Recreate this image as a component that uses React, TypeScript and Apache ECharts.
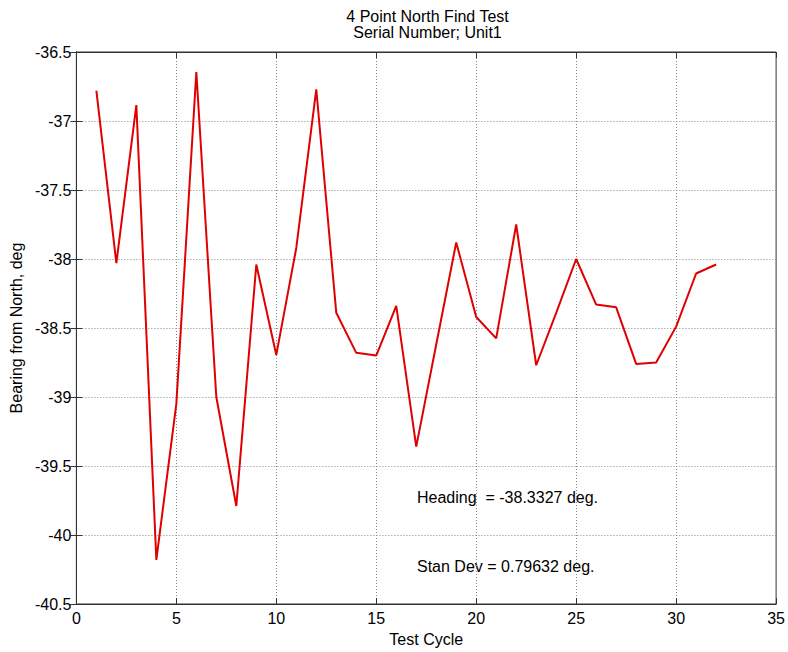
import React, { useEffect, useRef } from "react";
import * as echarts from "echarts";

const cycles = [1,2,3,4,5,6,7,8,9,10,11,12,13,14,15,16,17,18,19,20,21,22,23,24,25,26,27,28,29,30,31,32];
const bearings = [
  -36.78, -38.03, -36.885, -40.18, -39.05, -36.645, -39.0, -39.79,
  -38.04, -38.695, -37.92, -36.77, -38.39, -38.68, -38.70, -38.34,
  -39.36, -38.62, -37.88, -38.42, -38.575, -37.75, -38.77, -38.39,
  -38.0, -38.33, -38.35, -38.76, -38.75, -38.49, -38.105, -38.04,
];
const titleLines = ["4 Point North Find Test", "Serial Number; Unit1"];
const annotations = ["Heading  = -38.3327 deg.", "Stan Dev = 0.79632 deg."];
const xName = "Test Cycle";
const yName = "Bearing from North, deg";

const FONT = "'Liberation Sans', Arial, sans-serif";
const AXIS_COLOR = "#333";
const FS = 16;

export default function App() {
  const ref = useRef<HTMLDivElement>(null);
  useEffect(() => {
    document.body.style.margin = "0";
    if (!ref.current) return;
    const chart = echarts.init(ref.current, undefined, { renderer: "svg" });
    const gridLeft = 76, gridRight = 9, gridTop = 52, gridBottom = 45;
    const plotCenterX = gridLeft + (788 - gridLeft - gridRight) / 2;
    const commonX = { type: "value", min: 0, max: 35, interval: 5 };
    const commonY = { type: "value", min: -40.5, max: -36.5, interval: 0.5 };
    chart.setOption({
      animation: false,
      backgroundColor: "#fff",
      textStyle: { fontFamily: FONT },
      grid: {
        left: gridLeft, right: gridRight, top: gridTop, bottom: gridBottom,
        show: true, borderColor: AXIS_COLOR, borderWidth: 1, backgroundColor: "transparent",
      },
      xAxis: [
        {
          ...commonX,
          position: "bottom",
          name: xName,
          nameLocation: "middle",
          nameGap: 27,
          nameTextStyle: { fontSize: FS, color: "#000", fontFamily: FONT },
          axisLine: { show: true, lineStyle: { color: AXIS_COLOR } },
          axisTick: { show: true, inside: true, length: 6, lineStyle: { color: AXIS_COLOR } },
          axisLabel: { fontSize: FS, color: "#000", margin: 6, fontFamily: FONT },
          splitLine: { show: true, lineStyle: { type: [1, 2], color: "#888", width: 1 } },
        },
        {
          ...commonX,
          position: "top",
          axisLine: { show: true, lineStyle: { color: AXIS_COLOR } },
          axisTick: { show: true, inside: true, length: 6, lineStyle: { color: AXIS_COLOR } },
          axisLabel: { show: false },
          splitLine: { show: false },
        },
      ],
      yAxis: [
        {
          ...commonY,
          position: "left",
          name: yName,
          nameLocation: "middle",
          nameGap: 50,
          nameTextStyle: { fontSize: FS, color: "#000", fontFamily: FONT },
          axisLine: { show: true, lineStyle: { color: AXIS_COLOR } },
          axisTick: { show: true, inside: true, length: 6, lineStyle: { color: AXIS_COLOR } },
          axisLabel: { fontSize: FS, color: "#000", margin: 5, fontFamily: FONT },
          splitLine: { show: true, lineStyle: { type: [1, 2], color: "#888", width: 1 } },
        },
        {
          ...commonY,
          position: "right",
          axisLine: { show: true, lineStyle: { color: AXIS_COLOR } },
          axisTick: { show: true, inside: true, length: 6, lineStyle: { color: AXIS_COLOR } },
          axisLabel: { show: false },
          splitLine: { show: false },
        },
      ],
      graphic: [
        {
          type: "text",
          x: plotCenterX, y: 16,
          style: { text: titleLines[0], font: `${FS}px ${FONT}`, fill: "#000", align: "center", verticalAlign: "middle" },
        },
        {
          type: "text",
          x: plotCenterX, y: 32,
          style: { text: titleLines[1], font: `${FS}px ${FONT}`, fill: "#000", align: "center", verticalAlign: "middle" },
        },
        {
          type: "text",
          x: 417, y: 497,
          style: { text: annotations[0], font: `${FS}px ${FONT}`, fill: "#000", align: "left", verticalAlign: "middle" },
        },
        {
          type: "text",
          x: 417, y: 566,
          style: { text: annotations[1], font: `${FS}px ${FONT}`, fill: "#000", align: "left", verticalAlign: "middle" },
        },
      ],
      series: [
        {
          type: "line",
          xAxisIndex: 0,
          yAxisIndex: 0,
          data: cycles.map((c, i) => [c, bearings[i]]),
          showSymbol: false,
          symbol: "none",
          lineStyle: { color: "#e00000", width: 2 },
        },
      ],
    });
    return () => chart.dispose();
  }, []);
  return <div ref={ref} style={{ width: 788, height: 652 }} />;
}
